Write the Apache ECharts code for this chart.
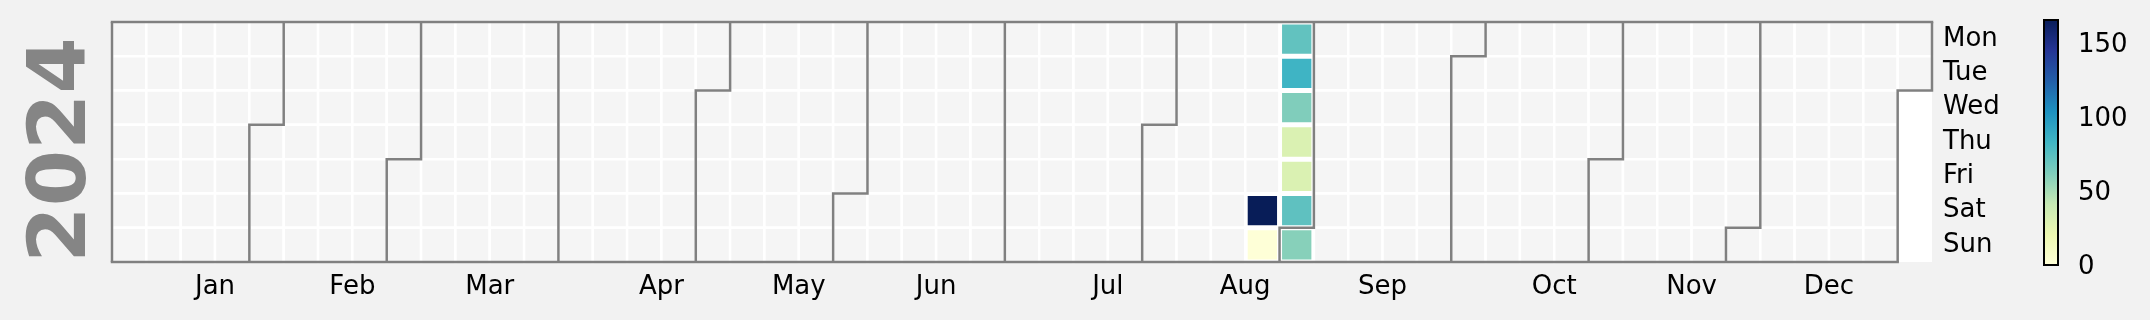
<!DOCTYPE html>
<html><head><meta charset="utf-8">
<script src="https://cdn.jsdelivr.net/npm/echarts@6/dist/echarts.min.js"></script>
<style>html,body{margin:0;padding:0;background:#f2f2f2}#c{width:2150px;height:320px}</style>
</head><body><div id="c"></div>
<script>
// ---- data ----
const year = '2024';
const dates = ['2024-08-24','2024-08-25','2024-08-26','2024-08-27','2024-08-28','2024-08-29','2024-08-30','2024-08-31','2024-09-01'];
const values = [166, 1, 72, 84, 62, 31, 31, 73, 60];
const monthNames = ['Jan','Feb','Mar','Apr','May','Jun','Jul','Aug','Sep','Oct','Nov','Dec'];
const dayNames = ['Sun','Mon','Tue','Wed','Thu','Fri','Sat'];
const colorbarTicks = [0, 50, 100, 150];
const vmin = 0, vmax = 166;
const ylgnbu = ['#ffffd9','#edf8b1','#c7e9b4','#7fcdbb','#41b6c4','#1d91c0','#225ea8','#253494','#081d58'];

// month labels are anchored (like ISO-week ticks) on the week of the 15th of each month
const monthTickDates = monthNames.map((m, i) => year + '-' + String(i + 1).padStart(2, '0') + '-15');

// ---- layout ----
const CAL = {left:112, top:22, width:1820, height:240};
const FONT = 'DejaVu Sans';

const chart = echarts.init(document.getElementById('c'), null, {renderer:'canvas'});
const common = {left:CAL.left, top:CAL.top, width:CAL.width, height:CAL.height, cellSize:['auto','auto'], range:year, orient:'horizontal'};

chart.setOption({
  backgroundColor:'#f2f2f2',
  animation:false,
  graphic:{elements:[{type:'rect', z:0, shape:{x:CAL.left, y:CAL.top, width:CAL.width, height:CAL.height}, style:{fill:'#ffffff'}}]},
  calendar:[
    Object.assign({}, common, {
      z:1,
      itemStyle:{color:'#f5f5f5', borderColor:'#ffffff', borderWidth:2.5},
      splitLine:{show:false}, yearLabel:{show:false}, monthLabel:{show:false},
      dayLabel:{show:false, firstDay:1}
    }),
    Object.assign({}, common, {
      z:3,
      itemStyle:{color:'transparent', borderWidth:0},
      splitLine:{show:true, lineStyle:{color:'#808080', width:2.5}},
      yearLabel:{show:true, position:'left', margin:8, fontSize:81, fontWeight:'bold', color:'#858585', fontFamily:FONT, padding:[0,16,0,0]},
      monthLabel:{show:false},
      dayLabel:{show:true, firstDay:1, nameMap:dayNames, position:'end', margin:11, fontSize:26, color:'#000', fontFamily:FONT, padding:[6,0,0,0]}
    })
  ],
  grid:{left:2044, top:20, width:14, height:245, show:false},
  xAxis:{type:'value', min:0, max:1, show:false},
  yAxis:{type:'value', min:vmin, max:vmax, position:'right',
    axisLine:{show:false}, splitLine:{show:false},
    axisTick:{show:true, length:9, customValues:colorbarTicks, lineStyle:{color:'#000', width:1.5}},
    axisLabel:{show:false}},
  visualMap:{show:false, type:'continuous', min:vmin, max:vmax, seriesIndex:0, inRange:{color:ylgnbu}},
  series:[
    {type:'heatmap', coordinateSystem:'calendar', calendarIndex:0, z:2,
     data:dates.map((d,i)=>[d, values[i]]),
     itemStyle:{borderColor:'#ffffff', borderWidth:2.5}},
    {type:'custom', xAxisIndex:0, yAxisIndex:0, clip:false, z:2, silent:true,
     data:[[0, vmin, vmax]],
     renderItem:function(params, api){
       const p0 = api.coord([0, api.value(1)]);
       const p1 = api.coord([1, api.value(2)]);
       return {type:'rect', shape:{x:p0[0], y:p1[1], width:p1[0]-p0[0], height:p0[1]-p1[1]},
         style:{fill:new echarts.graphic.LinearGradient(0,1,0,0, ylgnbu.map((c,i)=>({offset:i/(ylgnbu.length-1), color:c}))), stroke:'#000', lineWidth:2}};
     }},
    {type:'custom', xAxisIndex:0, yAxisIndex:0, clip:false, z:3, silent:true,
     data:colorbarTicks.map(v => [1, v]),
     renderItem:function(params, api){
       const p = api.coord([api.value(0), api.value(1)]);
       return {type:'text', x:p[0] + 20, y:p[1] + 2,
         style:{text:String(api.value(1)), align:'left', verticalAlign:'middle', fontSize:26, fontFamily:FONT, fill:'#000'}};
     }},
    {type:'custom', coordinateSystem:'calendar', calendarIndex:1, z:4, silent:true,
     data:monthTickDates.map((d,i)=>[d, i]),
     renderItem:function(params, api){
       const cs = params.coordSys;
       const p = api.coord([api.value(0)]);
       return {type:'text', x:p[0] + cs.cellWidth/2, y:cs.y + cs.height + 12,
         style:{text:monthNames[api.value(1)], align:'center', verticalAlign:'top', fontSize:26, fontFamily:FONT, fill:'#000'}};
     }}
  ]
});
</script></body></html>
